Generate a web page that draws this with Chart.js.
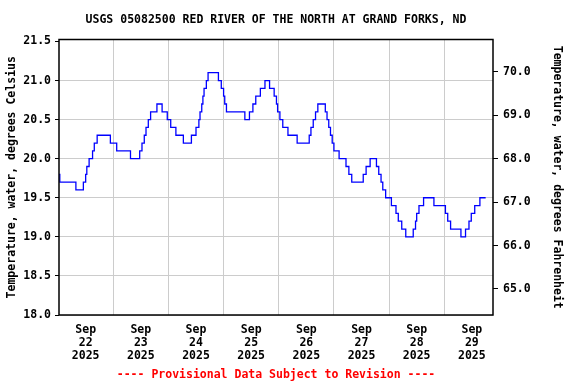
<!DOCTYPE html>
<html>
<head>
<meta charset="utf-8">
<script src="https://cdn.jsdelivr.net/npm/chart.js@4/dist/chart.umd.min.js"></script>
<style>
  html, body { margin: 0; padding: 0; background: #fff; }
  #wrap { width: 576px; height: 384px; position: relative; }
</style>
</head>
<body>
<div id="wrap"><canvas id="tempChart"></canvas></div>
<script>
// ----- data -----
// hours since 2025-09-22 00:00, each entry is where the reading changes
const hours = [
  0, 0.75, 7.75, 11, 12, 12.5, 13.5, 15, 15.75, 17,
  22.75, 25.5, 31.5, 35.5, 36.5, 37.5, 38.25, 39.25, 40.25, 43,
  45.25, 47.5, 49, 51.25, 54.5, 58, 60, 61.25, 61.75, 62.5,
  63, 63.5, 64.5, 65.25, 69.75, 71, 72, 72.5, 73.25, 81.25,
  83.25, 84.75, 86, 88, 90, 92, 94, 95, 95.5, 96.5,
  97.75, 100, 104, 109.25, 110, 111, 112, 113, 116.25, 117,
  117.75, 118.5, 119.25, 120, 122.25, 125.25, 126.5, 127.75, 132.75, 134,
  135.75, 138.5, 139.5, 140.5, 141.25, 142.5, 145, 147, 148, 149.5,
  151.25, 154.5, 155.5, 156, 157, 159, 163.5, 168.5, 169.5, 170.75,
  175.25, 177.25, 178.75, 179.75, 181.25, 183.5, 186
];
// water temperature, degrees Celsius
const tempC = [
  19.8, 19.7, 19.6, 19.7, 19.8, 19.9, 20.0, 20.1, 20.2, 20.3,
  20.2, 20.1, 20.0, 20.1, 20.2, 20.3, 20.4, 20.5, 20.6, 20.7,
  20.6, 20.5, 20.4, 20.3, 20.2, 20.3, 20.4, 20.5, 20.6, 20.7,
  20.8, 20.9, 21.0, 21.1, 21.0, 20.9, 20.8, 20.7, 20.6, 20.5,
  20.6, 20.7, 20.8, 20.9, 21.0, 20.9, 20.8, 20.7, 20.6, 20.5,
  20.4, 20.3, 20.2, 20.3, 20.4, 20.5, 20.6, 20.7, 20.6, 20.5,
  20.4, 20.3, 20.2, 20.1, 20.0, 19.9, 19.8, 19.7, 19.8, 19.9,
  20.0, 19.9, 19.8, 19.7, 19.6, 19.5, 19.4, 19.3, 19.2, 19.1,
  19.0, 19.1, 19.2, 19.3, 19.4, 19.5, 19.4, 19.3, 19.2, 19.1,
  19.0, 19.1, 19.2, 19.3, 19.4, 19.5, 19.5
];
const dayLabels = ['22', '23', '24', '25', '26', '27', '28', '29'];
const monthLabel = 'Sep';
const yearLabel = '2025';

const TITLE = 'USGS 05082500 RED RIVER OF THE NORTH AT GRAND FORKS, ND';
const FOOTER = '---- Provisional Data Subject to Revision ----';

// axis runs a hair above 21.5 so the top tick sits just under the frame
const C_MIN = 18.0, C_MAX = 21.525;
const toF = c => c * 1.8 + 32;

const FONT = 'DejaVu Sans Mono';
const font = { family: FONT, size: 11.5, weight: 'bold' };

// title + footer drawn by hand, plus the black frame round the plot
const decor = {
  id: 'decor',
  afterDraw(ch) {
    const { ctx, chartArea: a } = ch;
    ctx.save();
    ctx.strokeStyle = '#000';
    ctx.lineWidth = 1.5;
    ctx.strokeRect(a.left, a.top, a.right - a.left, a.bottom - a.top);
    ctx.font = `bold 11.5px "${FONT}"`;
    ctx.textAlign = 'center';
    ctx.textBaseline = 'middle';
    ctx.fillStyle = '#000';
    ctx.fillText(TITLE, (a.left + a.right) / 2, 20);
    ctx.fillStyle = '#ff0000';
    ctx.fillText(FOOTER, (a.left + a.right) / 2, 375);
    ctx.restore();
  }
};

new Chart(document.getElementById('tempChart'), {
  type: 'line',
  data: {
    datasets: [{
      data: hours.map((h, i) => ({ x: h, y: tempC[i] })),
      borderColor: '#0000ff',
      borderWidth: 1.3,
      pointRadius: 0,
      stepped: true,   // hold each value until the next change point
      fill: false,
      yAxisID: 'y'
    }]
  },
  plugins: [decor],
  options: {
    responsive: true,
    maintainAspectRatio: false,
    animation: false,
    layout: { padding: { top: 39.5, left: 0, right: 0, bottom: 0 } },
    plugins: { legend: { display: false }, tooltip: { enabled: false } },
    scales: {
      x: {
        type: 'linear',
        min: 0.4, max: 189.2,
        afterFit: s => { s.height = 69; },
        afterBuildTicks: s => {
          // midnights get a grid line, noons carry the date label
          const t = [];
          for (let h = 12; h < 189; h += 12) t.push({ value: h });
          s.ticks = t;
        },
        grid: {
          color: ctx => (ctx.tick && ctx.tick.value % 24 === 0) ? '#cccccc' : 'rgba(0,0,0,0)',
          lineWidth: 1,
          drawTicks: false
        },
        border: { display: false },
        ticks: {
          autoSkip: false, maxRotation: 0, padding: 8.5,
          color: '#000',
          font: { ...font, lineHeight: '13px' },
          callback: v => {
            if (v % 24 !== 12) return '';
            const i = (v - 12) / 24;
            return [monthLabel, dayLabels[i], yearLabel];
          }
        }
      },
      y: {
        position: 'left',
        min: C_MIN, max: C_MAX,
        afterFit: s => { s.width = 59; },
        grid: {
          color: ctx => (ctx.tick && ctx.tick.value >= 21.5) ? 'rgba(0,0,0,0)' : '#cccccc',
          tickColor: '#000', tickLength: 4
        },
        border: { display: false },
        ticks: {
          stepSize: 0.5, includeBounds: false, padding: 4,
          color: '#000', font,
          callback: v => v.toFixed(1)
        },
        title: {
          display: true, text: 'Temperature, water, degrees Celsius',
          color: '#000', font, padding: { top: 5, bottom: 0 }
        }
      },
      yF: {
        position: 'right',
        min: toF(C_MIN), max: toF(C_MAX),
        afterFit: s => { s.width = 83; },
        grid: { drawOnChartArea: false, tickColor: '#000', tickLength: 5 },
        border: { display: false },
        ticks: {
          stepSize: 1, includeBounds: false, padding: 5,
          color: '#000', font,
          callback: v => v.toFixed(1)
        },
        title: {
          display: true, text: 'Temperature, water, degrees Fahrenheit',
          color: '#000', font, padding: { top: 12, bottom: 0 }
        }
      }
    }
  }
});
</script>
</body>
</html>
